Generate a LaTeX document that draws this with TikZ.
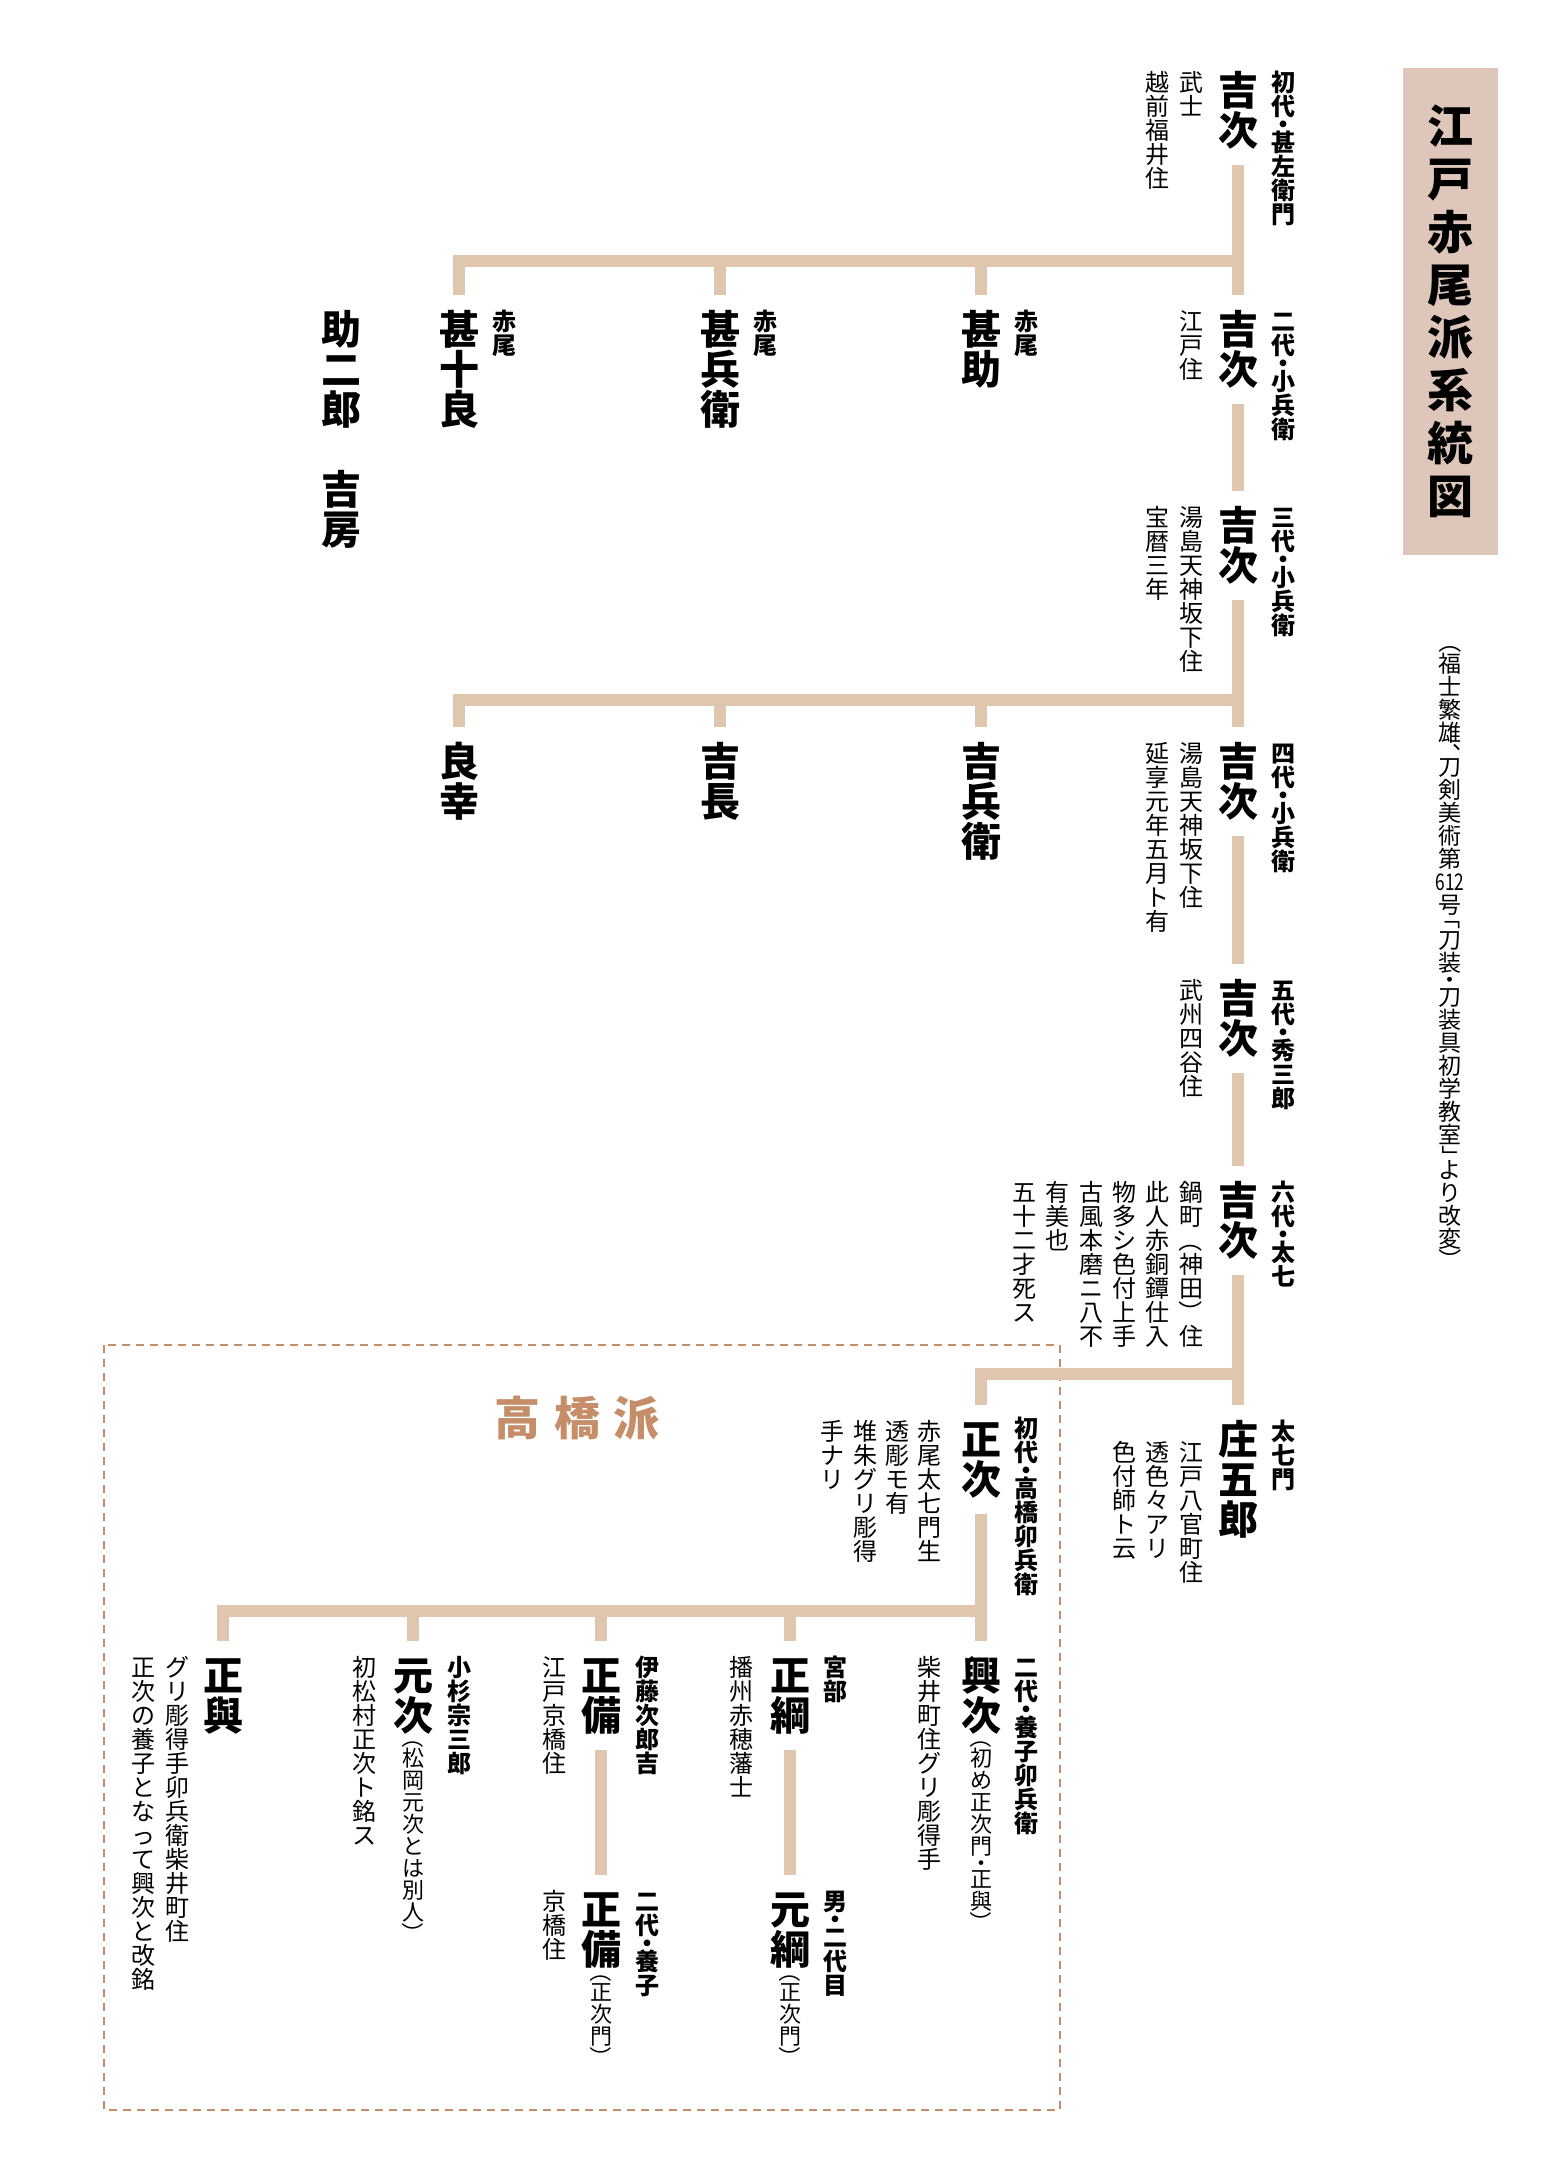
\documentclass[tikz,border=0pt]{standalone}
\usepackage{fontspec}
\usepackage{graphicx}
\setmainfont{Noto Sans CJK JP}

\definecolor{lineColor}{RGB}{223,199,175}
\definecolor{boxColor}{RGB}{222,199,186}
\definecolor{takaColor}{RGB}{197,141,104}

% vertical (tategaki) stacking of characters
\ExplSyntaxOn
\dim_new:N \l__tate_adv_dim
\cs_new_protected:Npn \__tate_row:nnn #1#2#3
  {
    \skip_vertical:n { (#1) / 2 }
    \hbox_to_wd:nn { 1em } { \hss \raisebox{#2}[0pt][0pt]{ \makebox[0pt]{#3} } \hss }
    \skip_vertical:n { (#1) / 2 }
  }
\cs_new_protected:Npn \__tate_item:n #1
  {
    \str_case:nnF {#1}
      {
        {・}{ \__tate_row:nnn {.5em}{-.38em}{・} }
        {（}{ \__tate_row:nnn {.5em}{.7em}{\rotatebox{-90}{（}} }
        {）}{ \__tate_row:nnn {.5em}{.3em}{\rotatebox{-90}{）}} }
        {「}{ \__tate_row:nnn {.5em}{.7em}{\rotatebox{-90}{「}} }
        {」}{ \__tate_row:nnn {.5em}{.3em}{\rotatebox{-90}{」}} }
        {、}{ \__tate_row:nnn {.5em}{0em}{\makebox[0pt][l]{\kern.1em 、}} }
      }
      { \__tate_row:nnn { \l__tate_adv_dim } {-.38em} {#1} }
  }
\NewDocumentCommand \tate { O{1em} m }
  {
    \vbox
      {
        \offinterlineskip
        \dim_set:Nn \l__tate_adv_dim {#1}
        \tl_map_function:nN {#2} \__tate_item:n
      }
  }
\ExplSyntaxOff
\newcommand\vp[1]{\raisebox{.88em}{\rotatebox{-90}{#1}}}

\tikzset{
  kname/.style={anchor=north,inner sep=0pt,font=\fontsize{20}{20}\selectfont\bfseries},
  ktag/.style={anchor=north,inner sep=0pt,font=\fontsize{12}{12}\selectfont\bfseries},
  knote/.style={anchor=north,inner sep=0pt,font=\fontsize{12}{12}\selectfont},
  kparen/.style={anchor=north,inner sep=0pt,font=\fontsize{11}{11}\selectfont},
  lineage/.style={draw=lineColor,line width=6pt},
}

\begin{document}
\begin{tikzpicture}[x=0.5pt,y=-0.5pt]
\useasboundingbox[fill=white] (0,0) rectangle (1562,2180);

% title and source
\node[fill=boxColor,inner sep=0pt,minimum width=47.5pt,minimum height=243.5pt,
  font=\fontsize{23}{23}\selectfont\bfseries] (title) at (1450,311) {\tate[1.15em]{江戸赤尾派系統図}};
\node[knote,font=\fontsize{11.5}{11.5}\selectfont] (source) at (1450,640)
  {\tate{（福士繁雄、刀剣美術第{\scalebox{.75}[1]{612}}号「刀装・刀装具初学教室」より改変）}};

% takahashi frame
\draw[takaColor,line width=1.2pt,dash pattern=on 4pt off 3pt] (104,1345) rectangle (1060,2110);
\node[text=takaColor,font=\fontsize{23}{23}\selectfont\bfseries] (taka) at (577,1418)
  {高\hspace{.3em}橋\hspace{.3em}派};

% main line
\node[kname] (y1) at (1238,70) {\tate{吉次}};
\node[ktag] (y1t) at (1283,70) {\tate{初代・甚左衛門}};
\node[knote] (y1a) at (1191,70) {\tate{武士}};
\node[knote] (y1b) at (1157,70) {\tate{越前福井住}};

\node[kname] (y2) at (1238,309) {\tate{吉次}};
\node[ktag] (y2t) at (1283,309) {\tate{二代・小兵衛}};
\node[knote] (y2a) at (1191,309) {\tate{江戸住}};

\node[kname] (y3) at (1238,505) {\tate{吉次}};
\node[ktag] (y3t) at (1283,505) {\tate{三代・小兵衛}};
\node[knote] (y3a) at (1191,505) {\tate{湯島天神坂下住}};
\node[knote] (y3b) at (1157,505) {\tate{宝暦三年}};

\node[kname] (y4) at (1238,741) {\tate{吉次}};
\node[ktag] (y4t) at (1283,741) {\tate{四代・小兵衛}};
\node[knote] (y4a) at (1191,741) {\tate{湯島天神坂下住}};
\node[knote] (y4b) at (1157,741) {\tate{延享元年五月ト有}};

\node[kname] (y5) at (1238,978) {\tate{吉次}};
\node[ktag] (y5t) at (1283,978) {\tate{五代・秀三郎}};
\node[knote] (y5a) at (1191,978) {\tate{武州四谷住}};

\node[kname] (y6) at (1238,1180) {\tate{吉次}};
\node[ktag] (y6t) at (1283,1180) {\tate{六代・太七}};
\node[knote] (y6a) at (1191,1180) {\tate{鍋町{\vp（}神田{\vp）}住}};
\node[knote] (y6b) at (1157,1180) {\tate{此人赤銅鐔仕入}};
\node[knote] (y6c) at (1124,1180) {\tate{物多シ色付上手}};
\node[knote] (y6d) at (1091,1180) {\tate{古風本磨ニ八不}};
\node[knote] (y6e) at (1057,1180) {\tate{有美也}};
\node[knote] (y6f) at (1024,1180) {\tate{五十二才死ス}};

\node[kname] (shogoro) at (1238,1419) {\tate{庄五郎}};
\node[ktag] (shogorot) at (1283,1419) {\tate{太七門}};
\node[knote] (shogoroa) at (1191,1440) {\tate{江戸八官町住}};
\node[knote] (shogorob) at (1157,1440) {\tate{透色々アリ}};
\node[knote] (shogoroc) at (1124,1440) {\tate{色付師ト云}};

% first branch
\node[kname] (jinsuke) at (981,309) {\tate{甚助}};
\node[ktag] (jinsuket) at (1026,309) {\tate{赤尾}};
\node[kname] (jinbei) at (720,309) {\tate{甚兵衛}};
\node[ktag] (jinbeit) at (765,309) {\tate{赤尾}};
\node[kname] (jinjuro) at (459,309) {\tate{甚十良}};
\node[ktag] (jinjurot) at (504,309) {\tate{赤尾}};
\node[kname] (sukejiro) at (341,309) {\tate{助二郎　吉房}};

% second branch
\node[kname] (yoshibei) at (981,741) {\tate{吉兵衛}};
\node[kname] (yoshinaga) at (720,741) {\tate{吉長}};
\node[kname] (yoshiyuki) at (459,741) {\tate{良幸}};

% takahashi line
\node[kname] (masa1) at (981,1419) {\tate{正次}};
\node[ktag] (masa1t) at (1026,1416) {\tate{初代・高橋卯兵衛}};
\node[knote] (masa1a) at (929,1419) {\tate{赤尾太七門生}};
\node[knote] (masa1b) at (897,1419) {\tate{透彫モ有}};
\node[knote] (masa1c) at (865,1419) {\tate{堆朱グリ彫得}};
\node[knote] (masa1d) at (832,1419) {\tate{手ナリ}};

\node[kname] (oki) at (981,1655) {\tate{興次}};
\node[kparen] (okip) at (oki.south) {\tate{（初め正次門・正與）}};
\node[ktag] (okit) at (1026,1655) {\tate{二代・養子卯兵衛}};
\node[knote] (okia) at (929,1655) {\tate{柴井町住グリ彫得手}};

\node[kname] (tsuna) at (790,1655) {\tate{正綱}};
\node[ktag] (tsunat) at (835,1655) {\tate{宮部}};
\node[knote] (tsunaa) at (741,1655) {\tate{播州赤穂藩士}};
\node[kname] (mototsuna) at (790,1889) {\tate{元綱}};
\node[kparen] (mototsunap) at (mototsuna.south) {\tate{（正次門）}};
\node[ktag] (mototsunat) at (835,1889) {\tate{男・二代目}};

\node[kname] (nari1) at (601,1655) {\tate{正備}};
\node[ktag] (nari1t) at (647,1655) {\tate{伊藤次郎吉}};
\node[knote] (nari1a) at (554,1655) {\tate{江戸京橋住}};
\node[kname] (nari2) at (601,1889) {\tate{正備}};
\node[kparen] (nari2p) at (nari2.south) {\tate{（正次門）}};
\node[ktag] (nari2t) at (647,1889) {\tate{二代・養子}};
\node[knote] (nari2a) at (554,1889) {\tate{京橋住}};

\node[kname] (moto) at (413,1655) {\tate{元次}};
\node[kparen] (motop) at (moto.south) {\tate{（松岡元次とは別人）}};
\node[ktag] (motot) at (459,1655) {\tate{小杉宗三郎}};
\node[knote] (motoa) at (364,1655) {\tate{初松村正次ト銘ス}};

\node[kname] (masayo) at (223,1655) {\tate{正與}};
\node[knote] (masayoa) at (177,1655) {\tate{グリ彫得手卯兵衛柴井町住}};
\node[knote] (masayob) at (143,1655) {\tate{正次の養子となって興次と改銘}};

% connectors
\coordinate (b1) at (1238,261);
\coordinate (b2) at (1238,700);
\coordinate (b3) at (1238,1374);
\coordinate (b4) at (981,1611);

\draw[lineage] ([yshift=-7pt]y1.south) -- ([yshift=7pt]y2.north);
\draw[lineage] ([yshift=-7pt]y2.south) -- ([yshift=7pt]y3.north);
\draw[lineage] ([yshift=-7pt]y3.south) -- ([yshift=7pt]y4.north);
\draw[lineage] ([yshift=-7pt]y4.south) -- ([yshift=7pt]y5.north);
\draw[lineage] ([yshift=-7pt]y5.south) -- ([yshift=7pt]y6.north);
\draw[lineage] ([yshift=-7pt]y6.south) -- ([yshift=7pt]shogoro.north);

\draw[lineage] (b1) -| ([yshift=7pt]jinsuke.north);
\draw[lineage] (b1) -| ([yshift=7pt]jinbei.north);
\draw[lineage] (b1) -| ([yshift=7pt]jinjuro.north);

\draw[lineage] (b2) -| ([yshift=7pt]yoshibei.north);
\draw[lineage] (b2) -| ([yshift=7pt]yoshinaga.north);
\draw[lineage] (b2) -| ([yshift=7pt]yoshiyuki.north);

\draw[lineage] (b3) -| ([yshift=7pt]masa1.north);
\draw[lineage] ([yshift=-7pt]masa1.south) -- ([yshift=7pt]oki.north);
\draw[lineage] (b4) -| ([yshift=7pt]tsuna.north);
\draw[lineage] (b4) -| ([yshift=7pt]nari1.north);
\draw[lineage] (b4) -| ([yshift=7pt]moto.north);
\draw[lineage] (b4) -| ([yshift=7pt]masayo.north);
\draw[lineage] ([yshift=-7pt]tsuna.south) -- ([yshift=7pt]mototsuna.north);
\draw[lineage] ([yshift=-7pt]nari1.south) -- ([yshift=7pt]nari2.north);
\end{tikzpicture}
\end{document}
